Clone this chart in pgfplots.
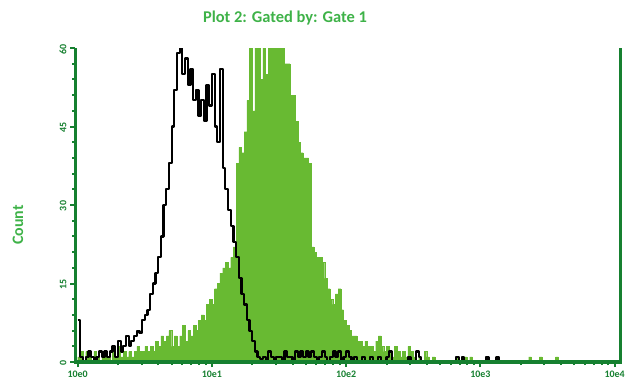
\documentclass[border=0pt]{standalone}
\usepackage{fontspec}
\setmainfont{Carlito}
\usepackage{pgfplots}
\usepackage{pgfplotstable}
\pgfplotsset{compat=1.18}
\definecolor{titlegreen}{RGB}{62,178,72}
\definecolor{axisgreen}{RGB}{22,128,48}
\definecolor{fillgreen}{RGB}{104,186,50}
\pgfplotstableread{
x g b
0.00 1 8
0.02 2 1
0.04 0 0
0.06 2 1
0.08 1 2
0.10 0 1
0.12 2 0
0.14 1 1
0.16 0 2
0.18 1 1
0.20 2 2
0.22 1 1
0.24 0 2
0.26 2 3
0.28 1 1
0.30 3 4
0.32 1 2
0.34 2 3
0.36 1 5
0.38 2 3
0.40 1 4
0.42 2 5
0.44 3 6
0.46 2 5.5
0.48 2 8
0.50 3 9
0.52 2 10
0.54 3 13
0.56 2 15
0.58 4 17
0.60 3 20
0.62 5 24
0.64 4 30
0.66 5 33
0.68 6 38
0.70 3 45
0.72 5 52
0.74 3 59
0.76 5 60
0.78 7 55
0.80 4 58
0.82 6 53
0.84 5 56
0.86 7 50
0.88 6 52
0.90 8 47
0.92 9 50
0.94 8 46
0.96 11 53
0.98 12 49
1.00 11 55
1.02 14 45
1.04 15 42
1.06 17 56
1.08 18 37
1.10 19 33
1.12 18 29
1.14 20 26
1.16 22 23
1.18 38 20
1.20 41 16
1.22 40 13
1.24 44 11
1.26 50 8
1.28 65 6
1.30 48 4
1.32 65 2
1.34 65 1
1.36 54 0.5
1.38 65 1
1.40 55 0
1.42 65 2
1.44 65 1
1.46 65 0
1.48 65 1
1.50 65 1
1.52 65 0
1.54 57 2
1.56 57 1
1.58 51 1
1.60 51 0
1.62 46 2
1.64 42 1
1.66 40 2
1.68 39 1
1.70 39 2
1.72 38 1
1.74 22 2
1.76 21 1
1.78 20 0
1.80 20 1
1.82 19 2
1.84 16 1
1.86 14 0
1.88 12 1
1.90 11 2
1.92 13 1
1.94 14 2
1.96 10 0
1.98 8 1
2.00 7 2
2.02 6 1
2.04 5 0
2.06 5 1
2.08 4 0
2.10 4 0
2.12 3 1
2.14 4 0
2.16 3 0
2.18 3 1
2.20 2 0
2.22 4 0
2.24 5 1
2.26 3 0
2.28 2 0
2.30 3 1
2.32 2 2
2.34 1 0
2.36 3 0
2.38 2 0
2.40 1 0
2.42 2 0
2.44 1 0
2.46 3 1
2.48 2 0
2.50 1 0
2.52 0 2
2.54 1 1
2.56 0 0
2.58 2 0
2.60 1 0
2.62 0 0
2.64 1 0
2.66 0 0
2.82 1 1
2.84 0 0
2.86 1 1
2.88 1 0
2.90 0 0
2.92 1 0
2.94 0 0
3.04 1 1
3.06 0 0
3.12 1 1
3.14 0 0
3.36 1 0
3.38 0 0
3.44 1 0
3.46 0 0
3.56 1 0
3.58 0 0
4.00 0 0
4.04 0 0
}\histdata
\begin{document}
\begin{tikzpicture}
\path[use as bounding box] (0,0) rectangle (633bp,387bp);
\begin{axis}[
  at={(75bp,25bp)}, anchor=south west,
  scale only axis, width=545bp, height=314bp,
  xmin=-0.02, xmax=4.04, ymin=0, ymax=60,
  clip mode=individual,
  axis x line=bottom, axis y line=left,
  axis line style={-, draw=none},
  axis on top,
  xtick={0,1,2,3,4},
  xticklabels={10e0,10e1,10e2,10e3,10e4},
  minor xtick={0.301,0.477,0.602,0.699,0.778,0.845,0.903,0.954,
    1.301,1.477,1.602,1.699,1.778,1.845,1.903,1.954,
    2.301,2.477,2.602,2.699,2.778,2.845,2.903,2.954,
    3.301,3.477,3.602,3.699,3.778,3.845,3.903,3.954},
  ytick={0,15,30,45,60},
  minor y tick num=4,
  tick align=outside,
  major tick length=5bp, minor tick length=3bp,
  tick style={draw=axisgreen, line width=2bp},
  /pgf/number format/assume math mode=true,
  tick label style={font=\fontsize{10}{10}\selectfont\bfseries, text=axisgreen},
  yticklabel style={rotate=90, anchor=south, xshift=-1bp},
  xticklabel style={yshift=0bp},
]
\addplot[const plot, fill=fillgreen, draw=fillgreen, line width=0.3bp] table[x=x, y=g] {\histdata} \closedcycle;
\addplot[const plot, black, line width=2.2bp, line join=round] table[x=x, y=b] {\histdata};
\draw[axisgreen, line width=3bp] (rel axis cs:0,1) -- (rel axis cs:0,0) -- (rel axis cs:1,0) -- (rel axis cs:1,1);
\end{axis}
\node[text=titlegreen, font=\fontsize{16.5}{18}\selectfont\bfseries] at (285bp,369bp) {Plot 2: Gated by: Gate 1};
\node[text=titlegreen, font=\fontsize{16}{18}\selectfont\bfseries, rotate=90] at (18bp,162bp) {Count};
\end{tikzpicture}
\end{document}
